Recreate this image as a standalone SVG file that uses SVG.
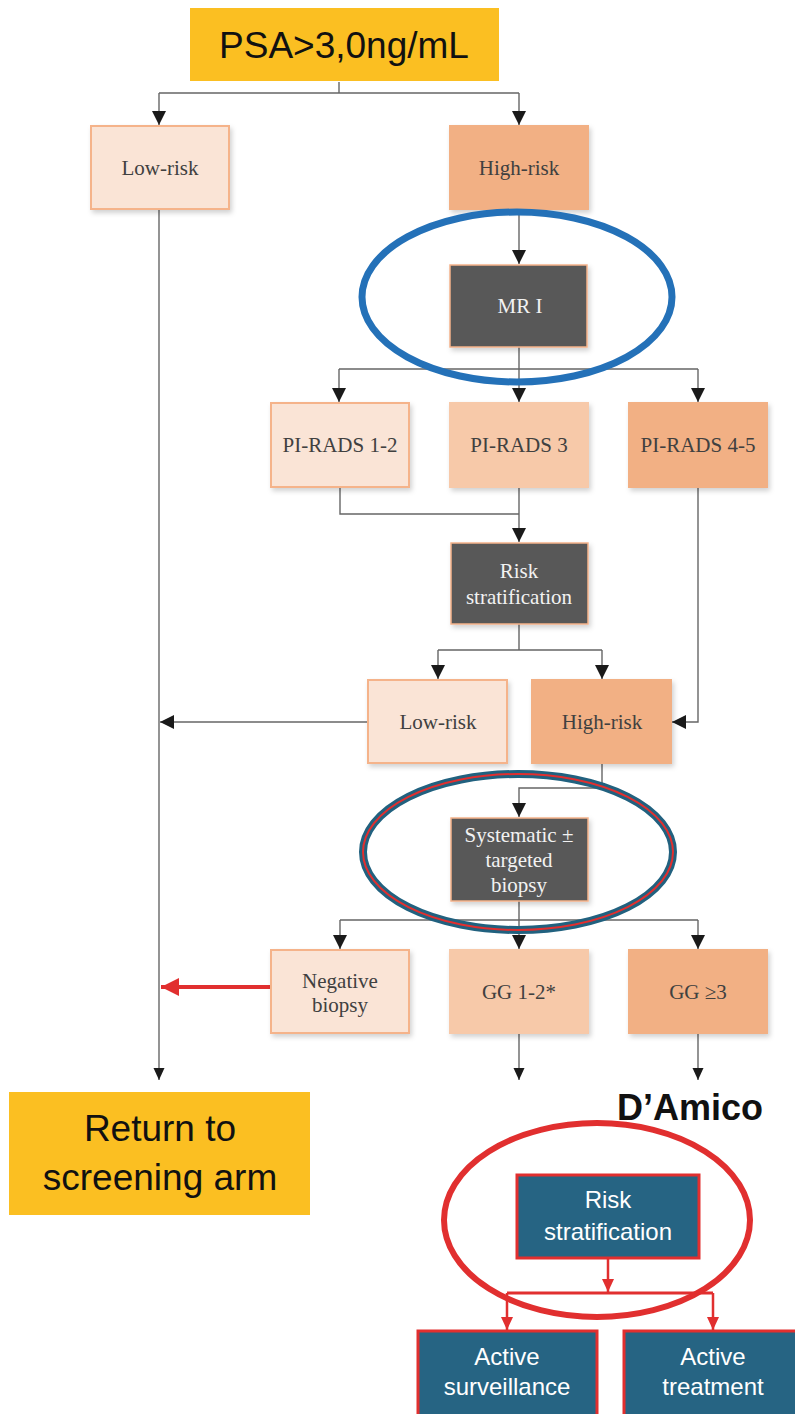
<svg xmlns="http://www.w3.org/2000/svg" width="795" height="1414" viewBox="0 0 795 1414">
<defs>
<marker id="ah" markerUnits="userSpaceOnUse" markerWidth="14" markerHeight="14" refX="14" refY="7" orient="auto"><path d="M0,0 L14,7 L0,14 z" fill="#1a1a1a"/></marker>
<marker id="ahs" markerUnits="userSpaceOnUse" markerWidth="12" markerHeight="12" refX="12" refY="6" orient="auto"><path d="M0,0.5 L12,6 L0,11.5 z" fill="#1a1a1a"/></marker>
<marker id="ahr" markerUnits="userSpaceOnUse" markerWidth="18" markerHeight="18" refX="18" refY="9" orient="auto"><path d="M0,0 L18,9 L0,18 z" fill="#e12f2f"/></marker>
<marker id="ahrs" markerUnits="userSpaceOnUse" markerWidth="13" markerHeight="12" refX="13" refY="6" orient="auto"><path d="M0,0 L13,6 L0,12 z" fill="#e12f2f"/></marker>
<filter id="sh" x="-10%" y="-10%" width="130%" height="130%"><feDropShadow dx="2" dy="3" stdDeviation="2.5" flood-color="#000" flood-opacity="0.18"/></filter>
</defs>
<style>
.c{fill:none;stroke:#666;stroke-width:1.4}
.l1{fill:#fae4d6;stroke:#f5b38a;stroke-width:2}
.l2{fill:#f7c9a9;stroke:#f7c9a9;stroke-width:2}
.l3{fill:#f2b084;stroke:#f2b084;stroke-width:2}
.dk{fill:#595959;stroke:#f5b38a;stroke-width:1.5}
.tl{fill:#266483;stroke:#e12f2f;stroke-width:3}
.yl{fill:#fbbf22}
.s{font-family:"Liberation Serif",serif;font-size:21px;fill:#404040;text-anchor:middle}
.sw{font-family:"Liberation Serif",serif;font-size:21px;fill:#f2f2f2;text-anchor:middle}
.b{font-family:"Liberation Sans",Arial,sans-serif;font-size:37px;fill:#111;text-anchor:middle}
.w{font-family:"Liberation Sans",Arial,sans-serif;font-size:24px;fill:#fff;text-anchor:middle}
</style>

<g id="connectors">
<path class="c" d="M339,82 V93 M159,93 H519"/>
<path class="c" d="M159,93 V125" marker-end="url(#ah)"/>
<path class="c" d="M519,93 V125" marker-end="url(#ah)"/>
<path class="c" d="M159,209 V1080" marker-end="url(#ahs)"/>
<path class="c" d="M519,209 V264" marker-end="url(#ah)"/>
<path class="c" d="M519,347 V369 M339,369 H698"/>
<path class="c" d="M339,369 V402" marker-end="url(#ah)"/>
<path class="c" d="M519,369 V402" marker-end="url(#ah)"/>
<path class="c" d="M698,369 V402" marker-end="url(#ah)"/>
<path class="c" d="M340,487 V514 H519"/>
<path class="c" d="M519,487 V542" marker-end="url(#ah)"/>
<path class="c" d="M519,624 V650 M438,650 H602"/>
<path class="c" d="M438,650 V679" marker-end="url(#ah)"/>
<path class="c" d="M602,650 V679" marker-end="url(#ah)"/>
<path class="c" d="M368,722 H160" marker-end="url(#ah)"/>
<path class="c" d="M698,487 V722 H672" marker-end="url(#ah)"/>
<path class="c" d="M602,763 V788 H519 V817" marker-end="url(#ah)"/>
<path class="c" d="M519,901 V920 M340,920 H698"/>
<path class="c" d="M340,920 V949" marker-end="url(#ah)"/>
<path class="c" d="M519,920 V949" marker-end="url(#ah)"/>
<path class="c" d="M698,920 V949" marker-end="url(#ah)"/>
<path class="c" d="M519,1033 V1080" marker-end="url(#ahs)"/>
<path class="c" d="M698,1033 V1080" marker-end="url(#ahs)"/>
<path d="M271,987 H161" fill="none" stroke="#e12f2f" stroke-width="4" marker-end="url(#ahr)"/>
<path d="M608,1258 V1292" fill="none" stroke="#e12f2f" stroke-width="2.5" marker-end="url(#ahrs)"/>
<path d="M507,1293 H713" fill="none" stroke="#e12f2f" stroke-width="3"/>
<path d="M507,1293 V1330" fill="none" stroke="#e12f2f" stroke-width="2.5" marker-end="url(#ahrs)"/>
<path d="M713,1293 V1330" fill="none" stroke="#e12f2f" stroke-width="2.5" marker-end="url(#ahrs)"/>
</g>

<g id="psa"><rect class="yl" x="190" y="8" width="309" height="73"/><text class="b" x="344" y="58">PSA&gt;3,0ng/mL</text></g>
<g id="lowrisk1"><rect class="l1" x="91" y="126" width="138" height="83" filter="url(#sh)"/><text class="s" x="160" y="175">Low-risk</text></g>
<g id="highrisk1"><rect class="l3" x="450" y="126" width="138" height="83" filter="url(#sh)"/><text class="s" x="519" y="175">High-risk</text></g>
<g id="mri"><rect class="dk" x="450" y="265" width="137" height="82" filter="url(#sh)"/><text class="sw" x="520" y="313">MR I</text></g>
<g id="pirads12"><rect class="l1" x="271" y="403" width="138" height="84" filter="url(#sh)"/><text class="s" x="340" y="452">PI-RADS 1-2</text></g>
<g id="pirads3"><rect class="l2" x="450" y="403" width="138" height="84" filter="url(#sh)"/><text class="s" x="519" y="452">PI-RADS 3</text></g>
<g id="pirads45"><rect class="l3" x="629" y="403" width="138" height="84" filter="url(#sh)"/><text class="s" x="698" y="452">PI-RADS 4-5</text></g>
<g id="riskstrat1"><rect class="dk" x="451" y="543" width="137" height="81" filter="url(#sh)"/><text class="sw" x="519" y="578">Risk</text><text class="sw" x="519" y="604">stratification</text></g>
<g id="lowrisk2"><rect class="l1" x="368" y="680" width="139" height="83" filter="url(#sh)"/><text class="s" x="438" y="729">Low-risk</text></g>
<g id="highrisk2"><rect class="l3" x="532" y="680" width="139" height="83" filter="url(#sh)"/><text class="s" x="602" y="729">High-risk</text></g>
<g id="biopsy"><rect class="dk" x="451" y="818" width="137" height="83" filter="url(#sh)"/><text class="sw" x="519" y="842">Systematic ±</text><text class="sw" x="519" y="867">targeted</text><text class="sw" x="519" y="892">biopsy</text></g>
<g id="negbiopsy"><rect class="l1" x="271" y="950" width="138" height="83" filter="url(#sh)"/><text class="s" x="340" y="988">Negative</text><text class="s" x="340" y="1012">biopsy</text></g>
<g id="gg12"><rect class="l2" x="450" y="950" width="138" height="83" filter="url(#sh)"/><text class="s" x="519" y="999">GG 1-2*</text></g>
<g id="gg3"><rect class="l3" x="629" y="950" width="138" height="83" filter="url(#sh)"/><text class="s" x="698" y="999">GG ≥3</text></g>

<g id="mri-highlight"><ellipse cx="517" cy="297" rx="155" ry="85" fill="none" stroke="#2471b8" stroke-width="7"/></g>
<g id="biopsy-highlight"><ellipse cx="518" cy="852" rx="155" ry="78" fill="none" stroke="#21617f" stroke-width="8"/><ellipse cx="518" cy="852" rx="155" ry="78" fill="none" stroke="#e12f2f" stroke-width="2"/></g>

<g id="return"><rect class="yl" x="9" y="1092" width="301" height="123"/><text class="b" x="160" y="1141">Return to</text><text class="b" x="160" y="1190">screening arm</text></g>
<g id="damico"><text x="690" y="1120" font-family="Liberation Sans,Arial,sans-serif" font-weight="bold" font-size="36" fill="#111" text-anchor="middle">D’Amico</text></g>
<g id="riskstrat2"><rect class="tl" x="517" y="1175" width="182" height="83"/><text class="w" x="608" y="1208">Risk</text><text class="w" x="608" y="1240">stratification</text></g>
<g id="damico-highlight"><ellipse cx="597" cy="1220" rx="153" ry="97" fill="none" stroke="#e12f2f" stroke-width="6"/></g>
<g id="surveillance"><rect class="tl" x="418" y="1331" width="179" height="90"/><text class="w" x="507" y="1365">Active</text><text class="w" x="507" y="1395">surveillance</text></g>
<g id="treatment"><rect class="tl" x="624" y="1331" width="180" height="90"/><text class="w" x="713" y="1365">Active</text><text class="w" x="713" y="1395">treatment</text></g>
</svg>
